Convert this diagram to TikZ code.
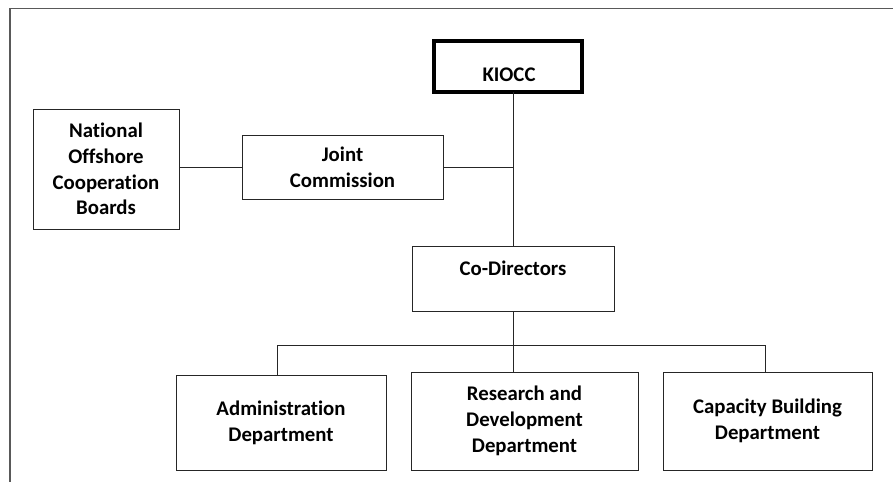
\documentclass[tikz,border=0pt]{standalone}
\usepackage{fontspec}
\setmainfont[Ligatures=NoCommon]{Carlito}
\begin{document}
\begin{tikzpicture}[x=1pt,y=-1pt,
  box/.style={draw=black!85, line width=0.8pt, rectangle, inner sep=0pt, outer sep=0pt},
  thickbox/.style={draw=black, line width=3.6pt, rectangle, inner sep=0pt, outer sep=0pt},
  lbl/.style={align=center, font=\fontsize{20.8}{25.8}\selectfont\bfseries, inner sep=0pt},
  conn/.style={draw=black!85, line width=0.8pt},
  framel/.style={draw=black!65, line width=1.6pt}]
\useasboundingbox (0,0) rectangle (893,482);
% frame
\draw[framel] (893,8.5) -- (10,8.5) -- (10,482);
% boxes
\node[thickbox, minimum width=148.5pt, minimum height=51.5pt] (kiocc) at (508,66.5) {};
\node[lbl] (kioccT) at (509,75) {KIOCC};
\node[box, lbl, minimum width=146pt, minimum height=120pt] (nat) at (106,169) {National\\Offshore\\Cooperation\\Boards};
\node[box, lbl, minimum width=201pt, minimum height=64pt] (joint) at (342.5,167) {Joint\\Commission};
\node[box, minimum width=202pt, minimum height=65pt] (codir) at (513,278.5) {};
\node[lbl] (codirT) at (513,268) {Co-Directors};
\node[box, lbl, minimum width=210pt, minimum height=95pt] (admin) at (281,422.5) {Administration\\Department};
\node[box, lbl, minimum width=227pt, minimum height=98pt] (rd) at (524.5,421) {Research and\\Development\\Department};
\node[box, lbl, minimum width=209pt, minimum height=98pt] (cap) at (767.5,421) {Capacity Building\\Department};
% connectors
\coordinate (busL) at (277,345);
\coordinate (busR) at (765,345);
\draw[conn] (codir.north |- kiocc.south) -- (codir.north);
\draw[conn] (joint.west) -- (joint.west -| nat.east);
\draw[conn] (joint.east) -- (joint.east -| codir.north);
\draw[conn] (codir.south) -- (codir.south |- rd.north);
\draw[conn] (busL |- admin.north) -- (busL) -- (busR) -- (busR |- cap.north);
\end{tikzpicture}
\end{document}
